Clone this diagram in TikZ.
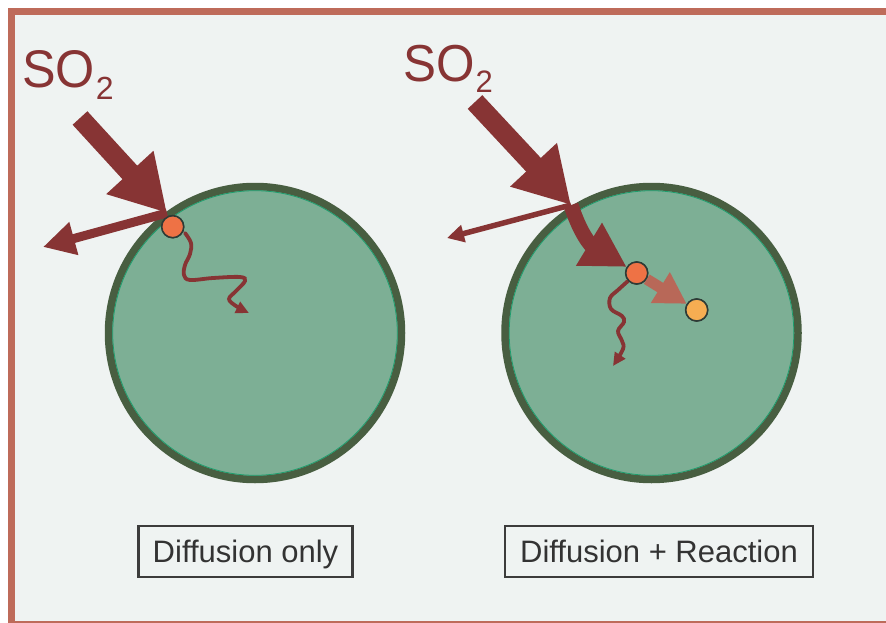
\documentclass[tikz,border=0pt]{standalone}
\usepackage{fontspec}
\setmainfont{Liberation Sans}
\usetikzlibrary{arrows.meta}
\definecolor{bgcol}{HTML}{EFF3F2}
\definecolor{framecol}{HTML}{BE6B5A}
\definecolor{cellfill}{HTML}{7DAF95}
\definecolor{cellring}{HTML}{485E41}
\definecolor{cellinner}{HTML}{1E9E6E}
\definecolor{arrowred}{HTML}{873434}
\definecolor{reactcol}{HTML}{B86858}
\definecolor{dotorange}{HTML}{EE7245}
\definecolor{dotyellow}{HTML}{F6AD52}
\definecolor{dotline}{HTML}{2E3B36}
\definecolor{boxline}{HTML}{3C3C3C}
\definecolor{boxtext}{HTML}{333333}
\tikzset{
  framebox/.style={draw=framecol, fill=bgcol, line width=7pt},
  cell/.style={circle, draw=cellring, fill=cellfill, line width=7.5pt, minimum size=293pt, inner sep=0pt},
  cellin/.style={draw=cellinner, line width=0.8pt},
  particle/.style={circle, draw=dotline, line width=1.5pt, minimum size=22pt, inner sep=0pt},
  bigin/.style={draw=arrowred, line width=20pt, -{Triangle[length=55pt,width=60pt]}},
  bounce/.style={draw=arrowred, -{Triangle[length=#1pt,width=#1pt]}},
  wavy/.style={draw=arrowred, line width=3.8pt, line cap=round, -{Triangle[length=13pt,width=12pt]}},
  sotext/.style={text=arrowred, inner sep=0pt, anchor=base west},
  labelbox/.style={draw=boxline, line width=2.6pt, text=boxtext, font=\fontsize{31}{31}\selectfont, text height=22pt, text depth=0pt, minimum height=51pt, inner sep=0pt}
}
\begin{document}
\begin{tikzpicture}[x=1pt,y=-1pt]
\useasboundingbox (0,0) rectangle (886,623);
\clip (0,0) rectangle (886,623);
\fill[white] (0,0) rectangle (886,623);
\draw[framebox] (11.5,11.5) rectangle (905,624);

% cells
\node[cell] (cellL) at (255,333) {};
\node[cell] (cellR) at (651.5,333) {};
\draw[cellin] (cellL.center) circle[radius=142.3pt];
\draw[cellin] (cellR.center) circle[radius=142.3pt];

% SO2 labels
\node[sotext] (soL) at (22,88) {\fontsize{53}{60}\selectfont\scalebox{0.95}[1]{SO}\kern1pt\raisebox{-12pt}{\fontsize{32}{32}\selectfont 2}};
\node[sotext] (soR) at (403,82) {\fontsize{52}{60}\selectfont\scalebox{0.95}[1]{SO}\kern1pt\raisebox{-11pt}{\fontsize{31}{31}\selectfont 2}};

% particles
\node[particle, fill=dotorange] (dotL) at (172.7,226.7) {};
\node[particle, fill=dotorange] (dotR) at (636.7,273) {};
\node[particle, fill=dotyellow] (dotY) at (696.7,310) {};

% left: diffusion only
\coordinate (inL) at (80,118);
\coordinate (hitL) at (167,213);
\coordinate (outL) at (43,247);
\draw[bigin] (inL) -- (hitL);
\draw[bounce=32, line width=9pt] (hitL) -- (outL);
\draw[wavy] plot[smooth, tension=0.6] coordinates {(185,233) (191,243) (190,254) (185,265) (184,275) (190,280) (213,278) (240,277) (245,281) (236,291) (229,299) (236,306) (249,313)};

% right: diffusion + reaction
\coordinate (inR) at (475,102);
\coordinate (hitR) at (571,205);
\coordinate (outR) at (447,238);
\draw[bigin] (inR) -- (hitR);
\draw[bounce=17, line width=5.5pt] (hitR) -- (outR);
\draw[draw=arrowred, line width=15pt, -{Triangle[length=44pt,width=47pt]}] (hitR) .. controls (581,236) and (592,246) .. (dotR);
\draw[draw=reactcol, line width=11pt, -{Triangle[length=31pt,width=34pt]}] (dotR) -- (dotY);
\draw[wavy] plot[smooth, tension=0.6] coordinates {(628,281) (618,290) (610,298) (611,309) (622,316) (624,322) (618,331) (622,341) (623,349) (613,366)};

% particles on top
\node[particle, fill=dotorange] at (dotL) {};
\node[particle, fill=dotorange] at (dotR) {};
\node[particle, fill=dotyellow] at (dotY) {};

% labels
\node[labelbox, minimum width=214pt] (boxL) at (245.5,551.5) {Diffusion only};
\node[labelbox, minimum width=308pt] (boxR) at (659,551.5) {Diffusion + Reaction};
\end{tikzpicture}
\end{document}
